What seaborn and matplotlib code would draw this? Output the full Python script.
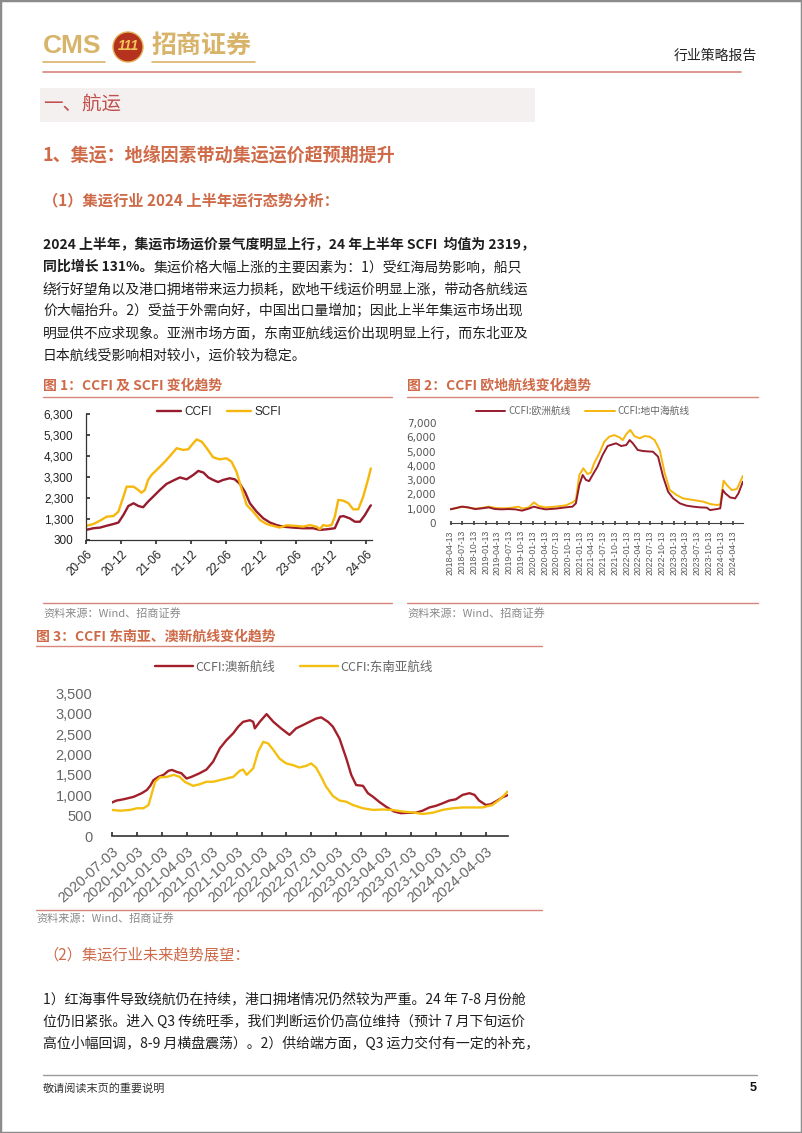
import matplotlib
matplotlib.use('Agg')
import matplotlib.pyplot as plt
import matplotlib.patches as mpatches
import matplotlib.lines as mlines
import seaborn as sns
import pandas as pd

# ---------------- data ----------------
# Fig 1: CCFI & SCFI
f1_ccfi_dates = ['2020-06-01', '2020-07-09', '2020-08-13', '2020-09-17', '2020-10-22', '2020-11-17', '2020-12-13',
                 '2021-01-08', '2021-02-04', '2021-03-01', '2021-03-26', '2021-04-21', '2021-05-17', '2021-06-21',
                 '2021-07-26', '2021-08-30', '2021-10-04', '2021-11-08', '2021-12-13', '2022-01-08', '2022-02-04',
                 '2022-03-01', '2022-03-26', '2022-04-21', '2022-05-17', '2022-06-21', '2022-07-17', '2022-08-13',
                 '2022-09-08', '2022-10-04', '2022-11-08', '2022-12-13', '2023-01-17', '2023-02-21', '2023-03-26',
                 '2023-05-17', '2023-07-08', '2023-08-30', '2023-10-04', '2023-11-08', '2023-12-21', '2024-01-17',
                 '2024-02-04', '2024-03-08', '2024-04-04', '2024-04-30', '2024-05-26', '2024-06-21', '2024-06-26']
f1_ccfi_vals = [780, 860, 890, 980, 1060, 1130, 1490, 1920, 2050, 1920, 1860, 2130, 2360, 2680, 2970, 3130, 3280,
                3190, 3400, 3590, 3510, 3280, 3160, 3060, 3160, 3240, 3190, 2970, 2600, 2050, 1650, 1330, 1130,
                1010, 935, 890, 860, 860, 780, 810, 860, 1410, 1440, 1330, 1170, 1170, 1490, 1890, 1950]
f1_scfi_dates = ['2020-06-01', '2020-07-09', '2020-08-13', '2020-09-17', '2020-10-22', '2020-11-17', '2020-12-13',
                 '2020-12-30', '2021-02-04', '2021-03-01', '2021-03-17', '2021-04-04', '2021-04-21', '2021-05-09',
                 '2021-06-13', '2021-07-26', '2021-09-17', '2021-10-21', '2021-11-17', '2021-12-04', '2021-12-30',
                 '2022-01-26', '2022-02-21', '2022-03-26', '2022-04-30', '2022-06-04', '2022-06-30', '2022-07-26',
                 '2022-08-21', '2022-09-17', '2022-10-21', '2022-11-26', '2022-12-30', '2023-02-04', '2023-03-08',
                 '2023-04-13', '2023-06-04', '2023-07-08', '2023-08-13', '2023-09-17', '2023-10-04', '2023-10-21',
                 '2023-11-08', '2023-12-04', '2023-12-21', '2024-01-08', '2024-02-04', '2024-03-01', '2024-03-26',
                 '2024-04-21', '2024-05-17', '2024-06-13', '2024-06-26']
f1_scfi_vals = [970, 1060, 1220, 1410, 1440, 1650, 2360, 2840, 2840, 2680, 2550, 2680, 3160, 3400, 3710, 4110,
                4670, 4590, 4620, 4820, 5090, 4980, 4670, 4240, 4140, 4190, 4030, 3550, 2760, 1970, 1650, 1250,
                1060, 970, 890, 1000, 970, 935, 1010, 935, 810, 1010, 970, 1010, 1410, 2210, 2170, 2050, 1760,
                1760, 2360, 3240, 3710]
f1_tick_dates = ['2020-06-01', '2020-12-01', '2021-06-01', '2021-12-01', '2022-06-01', '2022-12-01',
                 '2023-06-01', '2023-12-01', '2024-06-01']
f1_tick_labels = ['20-06', '20-12', '21-06', '21-12', '22-06', '22-12', '23-06', '23-12', '24-06']
f1_yticks = [300, 1300, 2300, 3300, 4300, 5300, 6300]

# Fig 2: CCFI Europe / Mediterranean
f2_eu_dates = ['2018-04-13', '2018-05-16', '2018-07-08', '2018-08-29', '2018-10-21', '2018-12-12', '2019-02-03',
               '2019-03-25', '2019-05-16', '2019-07-08', '2019-08-29', '2019-10-21', '2019-12-12', '2020-01-21',
               '2020-02-29', '2020-04-21', '2020-07-08', '2020-09-25', '2020-11-16', '2020-12-12', '2021-01-08',
               '2021-02-03', '2021-03-01', '2021-03-25', '2021-04-21', '2021-05-29', '2021-07-08', '2021-08-16',
               '2021-09-25', '2021-10-21', '2021-11-29', '2022-01-08', '2022-02-03', '2022-02-28', '2022-04-07',
               '2022-05-16', '2022-06-25', '2022-08-03', '2022-09-12', '2022-10-21', '2022-11-29', '2023-01-08',
               '2023-03-01', '2023-04-21', '2023-06-12', '2023-08-03', '2023-09-25', '2023-10-21', '2023-12-12',
               '2024-01-08', '2024-01-28', '2024-02-16', '2024-03-25', '2024-05-03', '2024-05-29', '2024-07-02']
f2_eu_vals = [940, 1010, 1130, 1080, 960, 1010, 1080, 960, 940, 960, 940, 850, 990, 1130, 1030, 940, 990, 1080,
              1130, 1360, 2650, 3360, 3010, 2930, 3360, 3940, 4770, 5400, 5520, 5590, 5400, 5470, 5820, 5590,
              5120, 5050, 5020, 5000, 4650, 3240, 2180, 1710, 1360, 1200, 1130, 1080, 1060, 890, 960, 1010,
              2300, 2070, 1780, 1710, 2070, 2890]
f2_med_dates = ['2018-04-13', '2018-05-29', '2018-07-21', '2018-09-12', '2018-11-03', '2018-12-25', '2019-02-03',
                '2019-04-07', '2019-06-12', '2019-08-03', '2019-09-25', '2019-10-21', '2019-12-12', '2020-01-21',
                '2020-02-29', '2020-04-21', '2020-07-08', '2020-09-25', '2020-11-16', '2020-12-12', '2021-01-08',
                '2021-02-08', '2021-03-12', '2021-04-07', '2021-05-03', '2021-06-12', '2021-07-21', '2021-08-29',
                '2021-10-07', '2021-11-16', '2021-12-12', '2022-01-08', '2022-02-08', '2022-03-12', '2022-04-21',
                '2022-05-29', '2022-07-08', '2022-08-16', '2022-09-25', '2022-11-03', '2022-12-12', '2023-02-03',
                '2023-03-25', '2023-06-12', '2023-08-29', '2023-10-21', '2023-12-12', '2024-01-08', '2024-02-03',
                '2024-02-29', '2024-04-07', '2024-05-16', '2024-07-02']
f2_med_vals = [960, 1030, 1130, 1030, 990, 1060, 1130, 1030, 1010, 1060, 1130, 990, 1080, 1430, 1170, 1080, 1130,
               1220, 1430, 1600, 3360, 3830, 3430, 3520, 4180, 4880, 5700, 6060, 6170, 6010, 5820, 6240, 6530,
               6100, 5940, 6100, 6060, 5820, 5120, 3470, 2300, 1950, 1710, 1600, 1480, 1320, 1240, 1290, 2960,
               2650, 2300, 2370, 3290]
f2_tick_labels = ['2018-04-13', '2018-07-13', '2018-10-13', '2019-01-13', '2019-04-13', '2019-07-13', '2019-10-13',
                  '2020-01-13', '2020-04-13', '2020-07-13', '2020-10-13', '2021-01-13', '2021-04-13', '2021-07-13',
                  '2021-10-13', '2022-01-13', '2022-04-13', '2022-07-13', '2022-10-13', '2023-01-13', '2023-04-13',
                  '2023-07-13', '2023-10-13', '2024-01-13', '2024-04-13']
f2_yticks = [0, 1000, 2000, 3000, 4000, 5000, 6000, 7000]

# Fig 3: CCFI Australia-NZ / Southeast Asia
f3_au_dates = ['2020-07-03', '2020-07-21', '2020-08-15', '2020-09-21', '2020-10-21', '2020-11-09', '2020-11-21',
               '2020-12-03', '2020-12-21', '2021-01-09', '2021-01-27', '2021-02-09', '2021-02-27', '2021-03-15',
               '2021-04-03', '2021-04-21', '2021-05-21', '2021-06-15', '2021-07-09', '2021-08-03', '2021-08-27',
               '2021-09-21', '2021-10-09', '2021-10-27', '2021-11-21', '2021-12-03', '2021-12-09', '2021-12-27',
               '2022-01-21', '2022-02-15', '2022-03-15', '2022-04-15', '2022-05-09', '2022-06-03', '2022-06-27',
               '2022-07-21', '2022-08-09', '2022-09-03', '2022-09-21', '2022-10-15', '2022-11-09', '2022-11-27',
               '2022-12-15', '2023-01-09', '2023-01-27', '2023-02-15', '2023-03-09', '2023-04-03', '2023-05-03',
               '2023-05-27', '2023-06-27', '2023-07-21', '2023-08-15', '2023-09-09', '2023-10-03', '2023-10-27',
               '2023-11-21', '2023-12-15', '2024-01-09', '2024-02-03', '2024-02-21', '2024-03-09', '2024-04-03',
               '2024-04-21', '2024-05-15', '2024-06-03', '2024-06-21']
f3_au_vals = [820, 870, 900, 960, 1050, 1130, 1230, 1370, 1450, 1500, 1600, 1620, 1570, 1540, 1410, 1450, 1540,
              1630, 1820, 2150, 2350, 2520, 2680, 2800, 2840, 2800, 2640, 2800, 2990, 2800, 2640, 2480, 2640,
              2720, 2800, 2880, 2910, 2800, 2680, 2390, 1900, 1500, 1250, 1230, 1050, 960, 840, 720, 600, 560,
              570, 570, 620, 700, 740, 800, 870, 900, 1010, 1050, 1010, 870, 760, 780, 870, 950, 1000]
f3_sea_dates = ['2020-07-03', '2020-08-03', '2020-09-09', '2020-10-03', '2020-10-27', '2020-11-15', '2020-11-27',
                '2020-12-09', '2020-12-27', '2021-01-21', '2021-02-15', '2021-03-09', '2021-03-27', '2021-04-27',
                '2021-05-21', '2021-06-15', '2021-07-09', '2021-08-03', '2021-08-27', '2021-09-21', '2021-10-15',
                '2021-10-27', '2021-11-09', '2021-12-03', '2021-12-21', '2022-01-09', '2022-01-27', '2022-02-15',
                '2022-03-09', '2022-04-03', '2022-04-27', '2022-05-21', '2022-06-15', '2022-07-03', '2022-07-21',
                '2022-08-09', '2022-08-27', '2022-09-21', '2022-10-15', '2022-11-09', '2022-12-03', '2023-01-09',
                '2023-02-15', '2023-03-21', '2023-04-27', '2023-06-03', '2023-07-09', '2023-08-15', '2023-09-21',
                '2023-10-27', '2023-12-03', '2024-01-09', '2024-02-15', '2024-03-21', '2024-04-27', '2024-05-21',
                '2024-06-09', '2024-06-21']
f3_sea_vals = [640, 620, 640, 680, 680, 760, 1050, 1330, 1440, 1450, 1500, 1450, 1330, 1230, 1270, 1330, 1330,
               1370, 1410, 1450, 1600, 1630, 1500, 1660, 2070, 2310, 2270, 2110, 1900, 1780, 1740, 1680, 1720,
               1780, 1680, 1450, 1210, 980, 870, 840, 760, 680, 640, 650, 640, 600, 580, 540, 570, 640, 680, 700,
               700, 700, 760, 880, 1000, 1090]
f3_tick_labels = ['2020-07-03', '2020-10-03', '2021-01-03', '2021-04-03', '2021-07-03', '2021-10-03', '2022-01-03',
                  '2022-04-03', '2022-07-03', '2022-10-03', '2023-01-03', '2023-04-03', '2023-07-03', '2023-10-03',
                  '2024-01-03', '2024-04-03']
f3_yticks = [0, 500, 1000, 1500, 2000, 2500, 3000, 3500]

# ---------------- style ----------------
sns.set_theme(style='white')
FAM = ['Noto Sans CJK SC', 'DejaVu Sans']
LAT = ['Liberation Sans', 'DejaVu Sans']
plt.rcParams['font.family'] = FAM
plt.rcParams['axes.unicode_minus'] = False

RED = '#951b2d'
GOLD = '#f6b60c'
HEAD = '#cf6a48'
RULE = '#d9867a'
LOGO = '#d7b46a'

W, H = 802, 1133
fig = plt.figure(figsize=(W / 100, H / 100), dpi=100)
fig.patch.set_facecolor('white')


def fx(x):
    return x / W


def fy(y):
    return 1 - y / H


def T(x, y, s, size, color='#222222', weight='normal', ha='left', va='center', family=FAM, **kw):
    return fig.text(fx(x), fy(y), s, fontsize=size, color=color, fontweight=weight, ha=ha, va=va,
                    family=family, **kw)


def hline(x0, x1, y, color, lw=1.0):
    fig.add_artist(mlines.Line2D([fx(x0), fx(x1)], [fy(y), fy(y)], transform=fig.transFigure,
                                 color=color, lw=lw))


def axes_px(l, t, r, b):
    return fig.add_axes([fx(l), fy(b), (r - l) / W, (b - t) / H])


renderer = fig.canvas.get_renderer()


def runs(x, y, parts, size, color='#1e1e1e'):
    for s, wgt in parts:
        t = T(x, y, s, size, color=color, weight=wgt)
        x += t.get_window_extent(renderer).width


# page border
fig.add_artist(mpatches.Rectangle((0, 0), 1, 1, transform=fig.transFigure, fill=False,
                                  edgecolor='#8c8c8c', lw=2.5))

# ---------------- header ----------------
T(43, 46, 'CMS', 19, color=LOGO, weight='bold', family=LAT)
fig.add_artist(mpatches.Ellipse((fx(128), fy(47)), 30 / W, 30 / H, transform=fig.transFigure,
                                facecolor='#b5321f', edgecolor='#e0b050', lw=1))
T(128, 46, '111', 10, color='#f1c75a', weight='bold', ha='center', family=LAT, style='italic')
T(152, 46, '招商证券', 18, color=LOGO, weight='bold')
hline(43, 105, 62, LOGO, 1.2)
hline(152, 255, 62, LOGO, 1.2)
T(757, 56, '行业策略报告', 10, color='#222222', ha='right')
hline(43, 741, 72, RULE, 1.2)

fig.add_artist(mpatches.Rectangle((fx(40), fy(122)), 495 / W, 34 / H, transform=fig.transFigure,
                                  facecolor='#f4f0ef', edgecolor='none'))
T(43, 104, '一、航运', 14, color='#c0504d')

T(43, 155, '1、集运：地缘因素带动集运运价超预期提升', 13, color=HEAD, weight='bold')
T(43, 200, '（1）集运行业 2024 上半年运行态势分析：', 11, color=HEAD, weight='bold')

BODY = 10
runs(43, 245, [('2024 上半年，集运市场运价景气度明显上行，24 年上半年 SCFI  均值为 2319，', 'bold')], BODY)
runs(43, 267, [('同比增长 131%。', 'bold'), ('集运价格大幅上涨的主要因素为：1）受红海局势影响，船只', 'normal')], BODY)
runs(43, 289, [('绕行好望角以及港口拥堵带来运力损耗，欧地干线运价明显上涨，带动各航线运', 'normal')], BODY)
runs(43, 311, [('价大幅抬升。2）受益于外需向好，中国出口量增加；因此上半年集运市场出现', 'normal')], BODY)
runs(43, 333, [('明显供不应求现象。亚洲市场方面，东南亚航线运价出现明显上行，而东北亚及', 'normal')], BODY)
runs(43, 355, [('日本航线受影响相对较小，运价较为稳定。', 'normal')], BODY)

# ---------------- figure 1 ----------------
T(43, 386, '图 1：CCFI 及 SCFI 变化趋势', 10, color=HEAD, weight='bold')
hline(43, 392, 397, RULE, 1.0)
hline(43, 392, 603, RULE, 1.0)
T(43, 613, '资料来源：Wind、招商证券', 8, color='#8a8a8a')

ax1 = axes_px(86, 414, 372, 540)
sns.lineplot(x=pd.to_datetime(f1_ccfi_dates), y=f1_ccfi_vals, ax=ax1, color=RED, lw=1.7, label='CCFI')
sns.lineplot(x=pd.to_datetime(f1_scfi_dates), y=f1_scfi_vals, ax=ax1, color=GOLD, lw=1.7, label='SCFI')
ax1.set_xlim(pd.Timestamp('2020-06-01'), pd.Timestamp('2024-07-02'))
ax1.set_ylim(300, 6300)
ax1.set_yticks(f1_yticks)
ax1.set_yticklabels([f'{v:,}' for v in f1_yticks], family=LAT, fontsize=8.5, color='#222222')
ax1.set_xticks(pd.to_datetime(f1_tick_dates))
ax1.set_xticklabels(f1_tick_labels, family=LAT, fontsize=8.5, color='#222222', rotation=45,
                    ha='right', va='top', rotation_mode='anchor')
ax1.tick_params(axis='y', direction='in', length=3, pad=9, left=True, color='#333333')
ax1.tick_params(axis='x', direction='out', length=3, pad=3, bottom=True, color='#333333')
for s in ['top', 'right']:
    ax1.spines[s].set_visible(False)
for s in ['left', 'bottom']:
    ax1.spines[s].set_color('#333333')
    ax1.spines[s].set_linewidth(0.9)
ax1.set_xlabel('')
ax1.set_ylabel('')
ax1.legend(loc='center', bbox_to_anchor=(fx(219), fy(412)), bbox_transform=fig.transFigure, ncol=2,
           frameon=False, prop={'family': LAT, 'size': 8.5}, handlelength=2.0, columnspacing=1.3,
           handletextpad=0.3)

# ---------------- figure 2 ----------------
T(407, 386, '图 2：CCFI 欧地航线变化趋势', 10, color=HEAD, weight='bold')
hline(407, 758, 397, RULE, 1.0)
hline(407, 758, 603, RULE, 1.0)
T(407, 613, '资料来源：Wind、招商证券', 8, color='#8a8a8a')

ax2 = axes_px(450, 423.3, 743, 522.7)
sns.lineplot(x=pd.to_datetime(f2_med_dates), y=f2_med_vals, ax=ax2, color=GOLD, lw=1.4, label='CCFI:地中海航线')
sns.lineplot(x=pd.to_datetime(f2_eu_dates), y=f2_eu_vals, ax=ax2, color=RED, lw=1.4, label='CCFI:欧洲航线')
ax2.set_xlim(pd.Timestamp('2018-04-09'), pd.Timestamp('2024-07-03'))
ax2.set_ylim(0, 7000)
ax2.set_yticks(f2_yticks)
ax2.set_yticklabels([f'{v:,}' for v in f2_yticks], family=['DejaVu Sans'], fontsize=7.5, color='#555555')
ax2.set_xticks(pd.to_datetime(f2_tick_labels))
ax2.set_xticklabels(f2_tick_labels, family=LAT, fontsize=6.2, color='#555555', rotation=90, ha='center', va='top')
ax2.tick_params(axis='y', length=0, pad=10)
ax2.tick_params(axis='x', direction='inout', length=3, pad=4, bottom=True, color='#444444')
for s in ['top', 'right', 'left']:
    ax2.spines[s].set_visible(False)
ax2.spines['bottom'].set_color('#444444')
ax2.spines['bottom'].set_linewidth(0.8)
ax2.set_xlabel('')
ax2.set_ylabel('')
h, l = ax2.get_legend_handles_labels()
ax2.legend(h[::-1], l[::-1], loc='center', bbox_to_anchor=(fx(583), fy(411)), bbox_transform=fig.transFigure,
           ncol=2, frameon=False, prop={'family': FAM, 'size': 7}, labelcolor='#666666', handlelength=3.0,
           columnspacing=1.5, handletextpad=0.3)

# ---------------- figure 3 ----------------
T(36, 637, '图 3：CCFI 东南亚、澳新航线变化趋势', 10, color=HEAD, weight='bold')
hline(36, 542, 646, RULE, 1.0)
hline(36, 542, 910, RULE, 1.0)
T(36, 918, '资料来源：Wind、招商证券', 8, color='#8a8a8a')

ax3 = axes_px(111.7, 693.3, 508.3, 836)
sns.lineplot(x=pd.to_datetime(f3_au_dates), y=f3_au_vals, ax=ax3, color='#a3202a', lw=1.7, label='CCFI:澳新航线')
sns.lineplot(x=pd.to_datetime(f3_sea_dates), y=f3_sea_vals, ax=ax3, color='#f3c012', lw=1.7, label='CCFI:东南亚航线')
ax3.set_xlim(pd.Timestamp('2020-07-03'), pd.Timestamp('2024-06-24'))
ax3.set_ylim(0, 3500)
ax3.set_yticks(f3_yticks)
ax3.set_yticklabels([f'{v:,}' for v in f3_yticks], family=LAT, fontsize=10.5, color='#666666')
ax3.set_xticks(pd.to_datetime(f3_tick_labels))
ax3.set_xticklabels(f3_tick_labels, family=LAT, fontsize=10.5, color='#666666', rotation=42,
                    ha='right', va='top', rotation_mode='anchor')
ax3.tick_params(axis='y', length=0, pad=14)
ax3.tick_params(axis='x', direction='in', length=3, pad=6, bottom=True, color='#333333')
for s in ['top', 'right', 'left']:
    ax3.spines[s].set_visible(False)
ax3.spines['bottom'].set_color('#333333')
ax3.spines['bottom'].set_linewidth(1.2)
ax3.set_xlabel('')
ax3.set_ylabel('')
ax3.legend(loc='center', bbox_to_anchor=(fx(294), fy(667)), bbox_transform=fig.transFigure, ncol=2,
           frameon=False, prop={'family': FAM, 'size': 9}, labelcolor='#666666', handlelength=3.0,
           columnspacing=2.0, handletextpad=0.2)

# ---------------- section 2 ----------------
T(43, 955, '（2）集运行业未来趋势展望：', 11, color=HEAD)
runs(43, 1000, [('1）红海事件导致绕航仍在持续，港口拥堵情况仍然较为严重。24 年 7-8 月份舱', 'normal')], BODY)
runs(43, 1022, [('位仍旧紧张。进入 Q3 传统旺季，我们判断运价仍高位维持（预计 7 月下旬运价', 'normal')], BODY)
runs(43, 1044, [('高位小幅回调，8-9 月横盘震荡）。2）供给端方面，Q3 运力交付有一定的补充，', 'normal')], BODY)

# ---------------- footer ----------------
hline(43, 757, 1075, '#9a9a9a', 1.0)
T(43, 1088, '敬请阅读末页的重要说明', 8, color='#333333')
T(757, 1088, '5', 9, color='#111111', weight='bold', ha='right', family=LAT)

fig.savefig('out.png', dpi=100, facecolor='white')
